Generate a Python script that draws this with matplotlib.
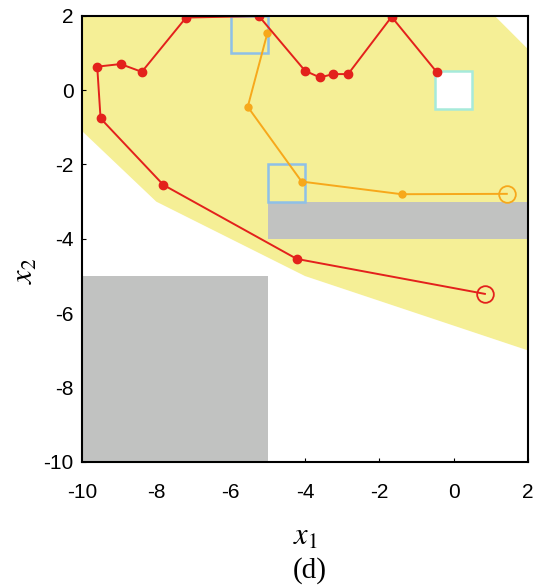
import matplotlib.pyplot as plt
from matplotlib.patches import Polygon, Rectangle

# === DATA ===
# safe region (yellow) outline
safe_x = [-10, 1.1, 2, 2, -4.0, -8.0, -10]
safe_y = [2, 2, 1.1, -7.0, -5.0, -3.0, -1.1]

# obstacles (gray): x0, y0, width, height
obstacles = [(-10, -10, 5, 5), (-5, -4, 7, 1)]

# target squares
blue_boxes = [(-6, 1, 1, 1), (-5, -3, 1, 1)]
goal_box = (-0.5, -0.5, 1, 1)

# trajectories
red_x = [0.84, -4.22, -7.81, -9.5, -9.59, -8.96, -8.39, -7.2, -5.24,
         -4.0, -3.6, -3.24, -2.84, -1.67, -0.46]
red_y = [-5.48, -4.54, -2.55, -0.76, 0.63, 0.70, 0.49, 1.95, 1.99,
         0.52, 0.34, 0.43, 0.43, 1.97, 0.49]

orange_x = [1.43, -1.40, -4.09, -5.54, -5.01]
orange_y = [-2.79, -2.80, -2.46, -0.45, 1.54]

ticks = [-10, -8, -6, -4, -2, 0, 2]

# === COLORS ===
yellow = "#f5ef96"
gray = "#c1c2c1"
red = "#e3211c"
orange = "#f7a81b"
blue = "#8ec0e8"
cyan = "#a6eadb"

plt.rcParams["font.family"] = ["Liberation Sans", "DejaVu Sans"]
plt.rcParams["mathtext.fontset"] = "stix"
plt.rcParams["axes.unicode_minus"] = False

fig = plt.figure(figsize=(5.48, 5.88), dpi=100)
ax = fig.add_axes([0.1496, 0.2143, 0.8139, 0.759])

ax.add_patch(Polygon(list(zip(safe_x, safe_y)), closed=True,
                     facecolor=yellow, edgecolor="none", zorder=1))
for x0, y0, w, h in obstacles:
    ax.add_patch(Rectangle((x0, y0), w, h, facecolor=gray, edgecolor="none", zorder=2))
for x0, y0, w, h in blue_boxes:
    ax.add_patch(Rectangle((x0, y0), w, h, facecolor="none", edgecolor=blue,
                           linewidth=1.8, zorder=3))
x0, y0, w, h = goal_box
ax.add_patch(Rectangle((x0, y0), w, h, facecolor="white", edgecolor=cyan,
                       linewidth=1.8, zorder=3))

n_o = len(orange_x)
ax.plot(orange_x, orange_y, color=orange, lw=1.4, marker="o", ms=5,
        markevery=list(range(1, n_o)), zorder=4)
ax.plot(orange_x[:1], orange_y[:1], marker="o", ms=12, mfc="none", mec=orange,
        mew=1.3, ls="none", zorder=5)
n_r = len(red_x)
ax.plot(red_x, red_y, color=red, lw=1.4, marker="o", ms=6,
        markevery=list(range(1, n_r)), zorder=5)
ax.plot(red_x[:1], red_y[:1], marker="o", ms=12, mfc="none", mec=red,
        mew=1.3, ls="none", zorder=6)

ax.set_xlim(-10, 2)
ax.set_ylim(-10, 2)
ax.set_xticks(ticks)
ax.set_yticks(ticks)
ax.tick_params(direction="in", length=3, labelsize=15)
ax.tick_params(axis="x", pad=15)
ax.tick_params(axis="y", pad=6)
for s in ax.spines.values():
    s.set_linewidth(1.5)
    s.set_zorder(7)

ax.set_xlabel("$x_1$", fontsize=22)
ax.xaxis.set_label_coords(0.5, -0.135)
ax.set_ylabel("$x_2$", fontsize=22)
ax.yaxis.set_label_coords(-0.094, 0.428)
fig.text(0.566, 0.018, "(d)", fontsize=21, family="Liberation Serif", ha="center")

plt.savefig("out.png", dpi=100)
plt.close()
